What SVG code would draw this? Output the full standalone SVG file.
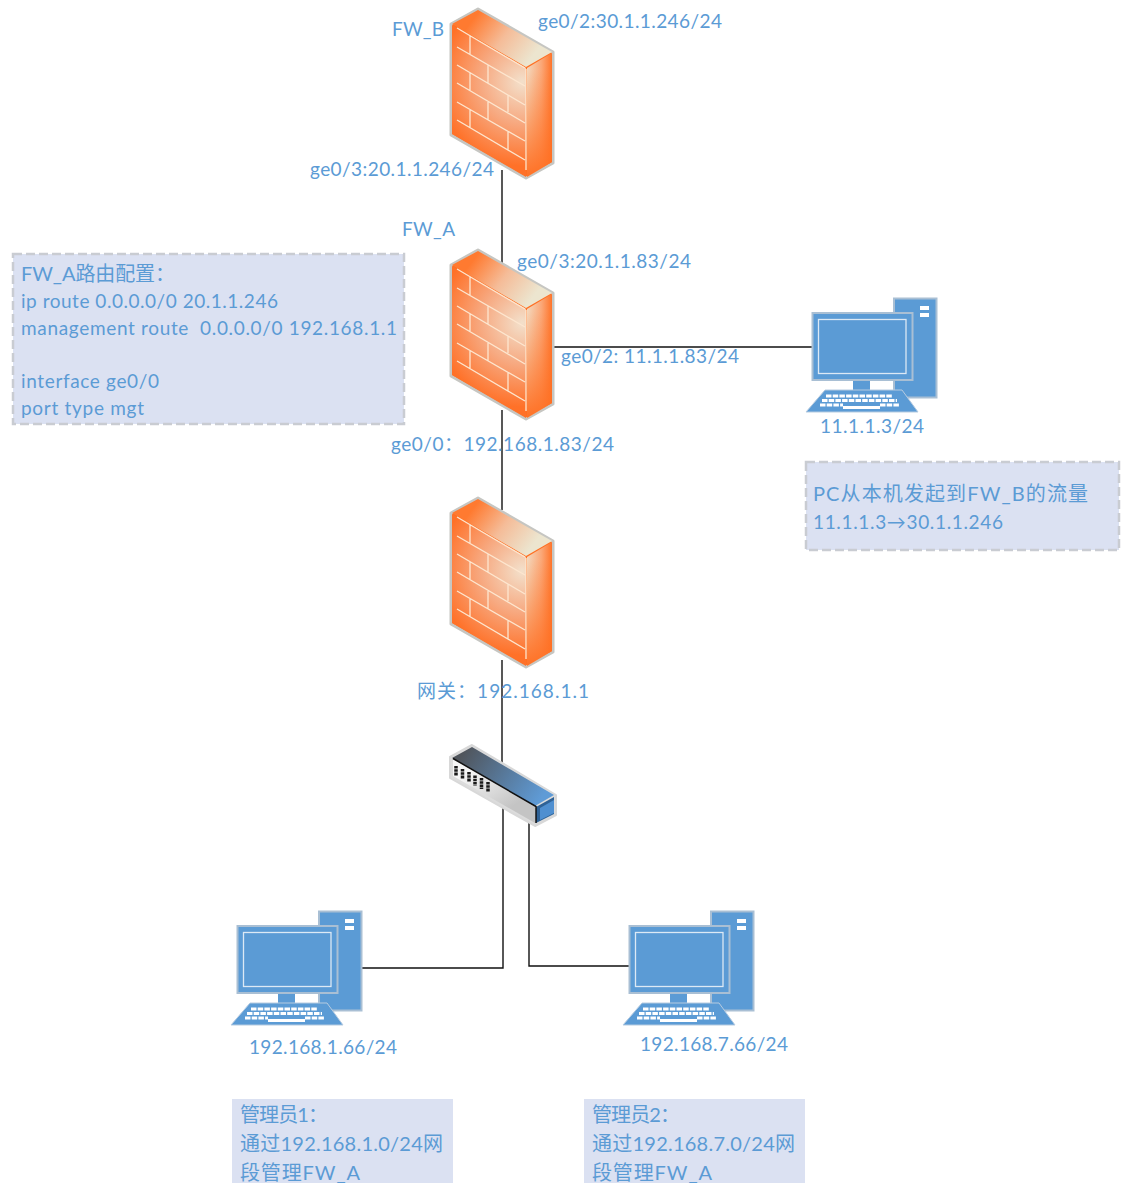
<svg xmlns="http://www.w3.org/2000/svg" width="1128" height="1183" viewBox="0 0 1128 1183">
<style>
text{font-family:"Lato","Noto Sans CJK SC","Noto Sans",sans-serif;font-size:19px;fill:#5b9bd5}
.cjk{font-size:20px}
.wire{fill:none;stroke:#111;stroke-width:1.4}
.note{fill:#dbe1f2}
.dash{stroke:#c9ccd2;stroke-width:2.5;stroke-dasharray:9 4}
.brick{fill:none;stroke:#fde6cf;stroke-width:1.3}
.pc{fill:#5b9bd5;stroke:#a9bfd4;stroke-width:2}
.key{fill:none;stroke:#fff;stroke-width:3;stroke-dasharray:5.500 1.200}
</style>
<defs>
<radialGradient id="fwFront" gradientUnits="userSpaceOnUse" cx="522" cy="82" r="84">
<stop offset="0" stop-color="#f3e0cb"/><stop offset="0.5" stop-color="#f7a87f"/><stop offset="1" stop-color="#ff7128"/>
</radialGradient>
<linearGradient id="fwSide" gradientUnits="userSpaceOnUse" x1="527" y1="0" x2="553" y2="0">
<stop offset="0" stop-color="#f3d8bd"/><stop offset="0.55" stop-color="#fba878"/><stop offset="1" stop-color="#ff6f22"/>
</linearGradient>
<linearGradient id="fwSideV" gradientUnits="userSpaceOnUse" x1="0" y1="70" x2="0" y2="180">
<stop offset="0" stop-color="#ff6f22" stop-opacity="0"/><stop offset="0.75" stop-color="#ff6f22" stop-opacity="0.75"/><stop offset="1" stop-color="#ff6f22"/>
</linearGradient>
<linearGradient id="fwTop" gradientUnits="userSpaceOnUse" x1="474" y1="18" x2="530" y2="60">
<stop offset="0" stop-color="#ff7a30"/><stop offset="0.5" stop-color="#f5bc98"/><stop offset="1" stop-color="#ece5cf"/>
</linearGradient>
<linearGradient id="swTop" gradientUnits="userSpaceOnUse" x1="465" y1="750" x2="540" y2="800">
<stop offset="0" stop-color="#50555c"/><stop offset="1" stop-color="#5f9bd6"/>
</linearGradient>
<linearGradient id="swFront" gradientUnits="userSpaceOnUse" x1="470" y1="770" x2="500" y2="815">
<stop offset="0" stop-color="#f6f6f6"/><stop offset="1" stop-color="#c4c4c4"/>
</linearGradient>
<g id="fwShape">
<polygon points="451,24 478,9 553,52 553,163 526,178 451,135" fill="#ff6f22" stroke="#c6c6c2" stroke-width="3" stroke-linejoin="round"/>
<polygon points="452,25 526,68 526,177 452,134" fill="url(#fwFront)"/>
<polygon points="527,68 552,53 552,162 527,177" fill="url(#fwSide)"/>
<polygon points="527,68 552,53 552,162 527,177" fill="url(#fwSideV)"/>
<polygon points="452,24 478,10 552,52 526,67" fill="url(#fwTop)"/>
<path class="brick" d="M457,28L525,68M457,47L525,86M457,65L525,105M457,83L525,123M457,102L525,141M457,120L525,160M526,69V170M470,36V54M488,65V83M470,73V91M508,95V112M488,102V120M470,110V128M508,132V150"/>
</g>
<g id="pcShape">
<rect class="pc" x="894" y="298.500" width="42.500" height="99"/>
<rect x="920" y="306" width="9" height="4" fill="#fff"/>
<rect x="920" y="313" width="9" height="4" fill="#fff"/>
<rect x="853" y="380" width="17" height="11" fill="#5b9bd5"/>
<rect class="pc" x="812.500" y="313" width="100" height="67"/>
<rect x="818.500" y="319.500" width="87.500" height="54" fill="#5b9bd5" stroke="#dce9f5" stroke-width="1.300"/>
<polygon points="825,390 902,390 918,412 806,412" fill="#5b9bd5" stroke="#b6cbe0" stroke-width="1"/>
<path class="key" d="M826,396H892M822,400.500H897"/>
<path class="key" d="M820,405H843M880,405H900"/>
<rect x="843" y="406" width="37" height="3" fill="#fff"/>
</g>
</defs>

<g id="connectors">
<path class="wire" d="M502,170V270"/>
<path class="wire" d="M502,410V510"/>
<path class="wire" d="M502,660V768"/>
<path class="wire" d="M503,800V968H362"/>
<path class="wire" d="M529,815V966H630"/>
<path class="wire" d="M550,347H813"/>
</g>

<g id="fw-b"><use href="#fwShape"/>
<text x="392" y="36" textLength="52">FW_B</text>
<text x="538" y="28" textLength="184">ge0/2:30.1.1.246/24</text>
<text x="310" y="176" textLength="184">ge0/3:20.1.1.246/24</text>
</g>
<g id="fw-a"><use href="#fwShape" y="241"/>
<text x="402" y="236" textLength="53">FW_A</text>
<text x="517" y="268" textLength="174">ge0/3:20.1.1.83/24</text>
<text x="561" y="363" textLength="178">ge0/2: 11.1.1.83/24</text>
<text x="391" y="451" textLength="223">ge0/0：192.168.1.83/24</text>
</g>
<g id="gateway"><use href="#fwShape" y="489"/>
<text x="417" y="698" textLength="172">网关：192.168.1.1</text>
</g>

<g id="switch">
<polygon points="450,757 472,745 556,795 556,815 535,826 450,778" fill="#dcdcdc" stroke="#d8d8d8" stroke-width="2" stroke-linejoin="round"/>
<polygon points="452,758 472,747 554,795 535,806" fill="url(#swTop)"/>
<polygon points="453,759 535,807 535,823 453,776" fill="url(#swFront)"/>
<polygon points="536,807 554,797 554,814 536,823" fill="#2f6296"/>
<polygon points="540,808 554,800 554,813 540,820" fill="#4f8fd0"/>
<path d="M453,758.500L536,806.500M536,806V823" stroke="#111" stroke-width="1.500" fill="none"/>
<path d="M456,766V776M462.500,769V779M469,772V782M475,775.500V785.500M481.500,778V789M488,782V792" stroke="#1a1a1a" stroke-width="3.500" stroke-dasharray="2.500 .7" fill="none"/>
</g>

<g id="pc-right"><use href="#pcShape"/>
<text x="820" y="433" textLength="104">11.1.1.3/24</text>
</g>
<g id="pc-admin1"><use href="#pcShape" x="-575" y="613"/>
<text x="249" y="1054" textLength="148">192.168.1.66/24</text>
</g>
<g id="pc-admin2"><use href="#pcShape" x="-183" y="613"/>
<text x="640" y="1051" textLength="148">192.168.7.66/24</text>
</g>

<g id="note-route">
<rect class="note dash" x="13" y="254" width="391" height="170"/>
<text x="21" y="281" textLength="154" class="cjk">FW_A路由配置：</text>
<text x="21" y="308" textLength="257">ip route 0.0.0.0/0 20.1.1.246</text>
<text x="21" y="335" textLength="376" xml:space="preserve">management route  0.0.0.0/0 192.168.1.1</text>
<text x="21" y="388" textLength="138">interface ge0/0</text>
<text x="21" y="415" textLength="123">port type mgt</text>
</g>
<g id="note-pc">
<rect class="note dash" x="806" y="462" width="313" height="88"/>
<text x="813" y="501" textLength="275" class="cjk">PC从本机发起到FW_B的流量</text>
<text x="813" y="529" textLength="190">11.1.1.3→30.1.1.246</text>
</g>
<g id="note-admin1">
<rect class="note" x="232" y="1099" width="221" height="84"/>
<text x="240" y="1122" textLength="88" class="cjk">管理员1：</text>
<text x="240" y="1151" textLength="203" class="cjk">通过192.168.1.0/24网</text>
<text x="240" y="1180" textLength="120" class="cjk">段管理FW_A</text>
</g>
<g id="note-admin2">
<rect class="note" x="584" y="1099" width="221" height="84"/>
<text x="592" y="1122" textLength="88" class="cjk">管理员2：</text>
<text x="592" y="1151" textLength="203" class="cjk">通过192.168.7.0/24网</text>
<text x="592" y="1180" textLength="120" class="cjk">段管理FW_A</text>
</g>
</svg>
